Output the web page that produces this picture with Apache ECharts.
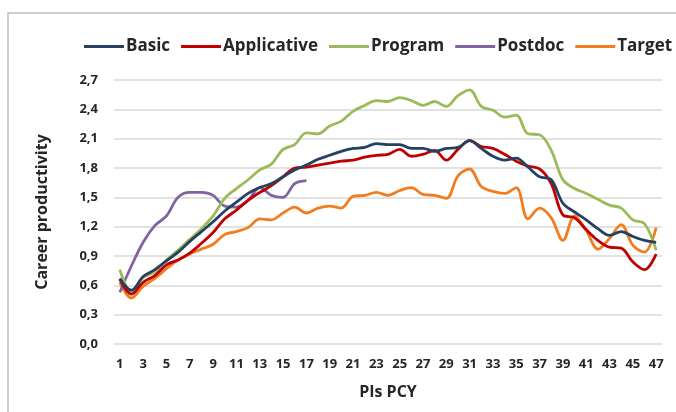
<!DOCTYPE html>
<html>
<head>
<meta charset="utf-8">
<script src="https://cdn.jsdelivr.net/npm/echarts@6/dist/echarts.min.js"></script>
<style>html,body{margin:0;padding:0;background:#fff}#c{width:676px;height:412px}</style>
</head>
<body>
<div id="c"></div>
<script>
const categories = Array.from({length: 47}, (_, i) => String(i + 1));
const yTicks = [0, 0.3, 0.6, 0.9, 1.2, 1.5, 1.8, 2.1, 2.4, 2.7];

const basic = [0.67,0.55,0.69,0.76,0.85,0.94,1.05,1.15,1.25,1.36,1.45,1.54,1.60,1.64,1.71,1.78,1.83,1.89,1.93,1.97,2.00,2.01,2.05,2.04,2.04,2.00,2.00,1.97,2.00,2.01,2.08,2.00,1.92,1.88,1.90,1.81,1.71,1.68,1.44,1.35,1.27,1.18,1.11,1.15,1.10,1.06,1.04];
const applicative = [0.66,0.51,0.63,0.70,0.81,0.86,0.93,1.03,1.14,1.28,1.37,1.47,1.55,1.62,1.71,1.80,1.81,1.83,1.85,1.87,1.88,1.91,1.93,1.94,1.99,1.92,1.94,1.98,1.88,1.99,2.08,2.02,2.00,1.94,1.87,1.82,1.79,1.64,1.32,1.29,1.17,1.06,0.99,0.98,0.84,0.76,0.92];
const program = [0.76,0.53,0.68,0.74,0.86,0.96,1.07,1.18,1.31,1.49,1.59,1.68,1.78,1.84,1.99,2.04,2.16,2.15,2.23,2.28,2.38,2.44,2.49,2.48,2.52,2.49,2.44,2.48,2.43,2.54,2.60,2.43,2.39,2.32,2.34,2.15,2.14,1.98,1.68,1.59,1.54,1.48,1.42,1.39,1.27,1.23,0.96];
const postdoc = [0.53,0.80,1.04,1.21,1.31,1.50,1.55,1.55,1.52,1.41,1.40,1.47,1.60,1.52,1.50,1.64,1.67];
const target = [0.63,0.47,0.59,0.67,0.77,0.86,0.92,0.97,1.02,1.12,1.15,1.19,1.28,1.27,1.34,1.40,1.34,1.39,1.41,1.39,1.51,1.52,1.55,1.52,1.57,1.60,1.53,1.52,1.49,1.72,1.79,1.61,1.56,1.54,1.60,1.28,1.39,1.29,1.06,1.31,1.16,0.97,1.08,1.22,1.01,0.94,1.19];

const seriesNames = ['Basic', 'Applicative', 'Program', 'Postdoc', 'Target'];
const seriesData = [basic, applicative, program, postdoc, target];
const colors = ['#254061', '#C00000', '#9BBB59', '#8064A2', '#F27D1F'];

const chart = echarts.init(document.getElementById('c'), null, {renderer: 'canvas'});
const FONT = 'Open Sans';
chart.setOption({
  animation: false,
  color: colors,
  graphic: [{
    type: 'rect', silent: true, z: -10,
    shape: {x: 8, y: 13, width: 720, height: 440},
    style: {fill: 'none', stroke: '#BFBFBF', lineWidth: 1.5}
  }],
  legend: {
    top: 38, left: 84, width: 620, padding: 0,
    icon: 'rect', itemWidth: 40, itemHeight: 3, itemGap: 11,
    textStyle: {fontFamily: FONT, fontWeight: 'bold', fontSize: 17, color: '#262626', padding: [0, 0, 0, -3]},
    data: seriesNames
  },
  grid: {left: 114, right: 14, top: 80, bottom: 68, containLabel: false},
  xAxis: {
    type: 'category', data: categories, boundaryGap: true,
    axisLine: {show: false}, axisTick: {show: false},
    axisLabel: {interval: 1, fontFamily: FONT, fontWeight: 'bold', fontSize: 13, color: '#262626', margin: 14},
    name: 'PIs PCY', nameLocation: 'middle', nameGap: 40,
    nameTextStyle: {fontFamily: FONT, fontWeight: 'bold', fontSize: 16, color: '#262626'}
  },
  yAxis: {
    type: 'value', min: 0, max: 2.7, interval: 0.3,
    axisLine: {show: false}, axisTick: {show: false},
    splitLine: {lineStyle: {color: '#D9D9D9', width: 1.5}},
    axisLabel: {
      fontFamily: FONT, fontWeight: 'bold', fontSize: 13, color: '#262626', margin: 16,
      formatter: v => {
        const t = yTicks.reduce((a, b) => Math.abs(b - v) < Math.abs(a - v) ? b : a);
        return t.toFixed(1).replace('.', ',');
      }
    },
    name: 'Career productivity', nameLocation: 'middle', nameGap: 64,
    nameTextStyle: {fontFamily: FONT, fontWeight: 'bold', fontSize: 16, color: '#262626'}
  },
  series: seriesNames.map((n, k) => ({
    name: n, type: 'line', data: seriesData[k], smooth: 0.35,
    showSymbol: false, symbol: 'none',
    lineStyle: {width: 2.8, color: colors[k]},
    z: 10 - k
  }))
});
</script>
</body>
</html>
